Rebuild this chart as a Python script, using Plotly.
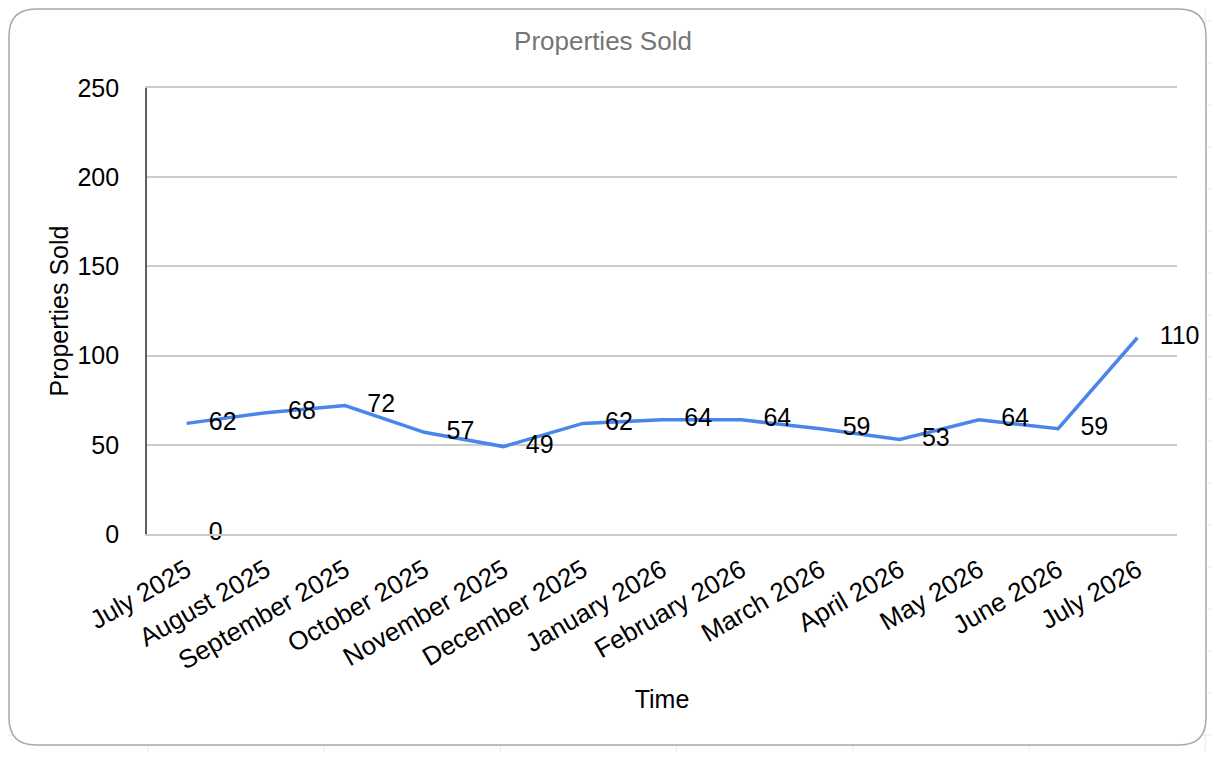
import plotly.graph_objects as go

# data
months = ["July 2025", "August 2025", "September 2025", "October 2025",
          "November 2025", "December 2025", "January 2026", "February 2026",
          "March 2026", "April 2026", "May 2026", "June 2026", "July 2026"]
sold = [62, 68, 72, 57, 49, 62, 64, 64, 59, 53, 64, 59, 110]

# stray "0" label shown under the first month
extra_month = ["July 2025"]
extra_value = [0]

# the page body adds an 8px margin, so everything is laid out 8px up/left
OFF = 8
W, H = 1204, 744
L, R, T, B = 147 - OFF, 1177 - OFF, 88 - OFF, 534 - OFF   # plot area


def px(x):
    return (x - L) / (R - L)


def py(y):
    return (B - y) / (B - T)


font = "Liberation Sans, Arial, sans-serif"

line = go.Scatter(
    x=months,
    y=sold,
    mode="lines+markers+text",
    line=dict(color="#4a85ec", width=3.5),
    marker=dict(size=34, color="rgba(0,0,0,0)"),
    text=[str(v) for v in sold],
    textposition="middle right",
    textfont=dict(family=font, size=25, color="#000000"),
    cliponaxis=False,
    hoverinfo="x+y",
    showlegend=False,
)

zero_lbl = go.Scatter(
    x=extra_month,
    y=extra_value,
    mode="markers+text",
    marker=dict(size=34, color="rgba(0,0,0,0)"),
    text=[str(v) for v in extra_value],
    textposition="middle right",
    textfont=dict(family=font, size=25, color="#000000"),
    cliponaxis=False,
    hoverinfo="skip",
    showlegend=False,
)

shapes = []
# faint spreadsheet cells behind the chart
for k in range(19):
    yy = 21 - OFF + 42 * k
    shapes.append(dict(type="line", xref="paper", yref="paper", layer="below",
                       x0=px(0), x1=px(W), y0=py(yy), y1=py(yy),
                       line=dict(color="#ebebeb", width=1)))
for k in range(7):
    xx = 148 - OFF + 176.2 * k
    shapes.append(dict(type="line", xref="paper", yref="paper", layer="below",
                       x0=px(xx), x1=px(xx), y0=py(0), y1=py(H),
                       line=dict(color="#ebebeb", width=1)))

# rounded chart frame
x0, x1, y0, y1, r = 1, 1206 - OFF, 1, 745 - OFF, 27
path = (f"M {px(x0 + r)} {py(y0)} L {px(x1 - r)} {py(y0)} "
        f"Q {px(x1)} {py(y0)} {px(x1)} {py(y0 + r)} "
        f"L {px(x1)} {py(y1 - r)} "
        f"Q {px(x1)} {py(y1)} {px(x1 - r)} {py(y1)} "
        f"L {px(x0 + r)} {py(y1)} "
        f"Q {px(x0)} {py(y1)} {px(x0)} {py(y1 - r)} "
        f"L {px(x0)} {py(y0 + r)} "
        f"Q {px(x0)} {py(y0)} {px(x0 + r)} {py(y0)} Z")
shapes.append(dict(type="path", xref="paper", yref="paper", layer="below",
                   path=path, fillcolor="white",
                   line=dict(color="#a8a8a8", width=1.5)))

fig = go.Figure(data=[line, zero_lbl])

fig.update_layout(
    width=W, height=H,
    margin=dict(l=L, r=W - R, t=T, b=H - B, autoexpand=False),
    paper_bgcolor="white",
    plot_bgcolor="rgba(0,0,0,0)",
    font=dict(family=font, size=25, color="#000000"),
    title=dict(text="Properties Sold", x=(603 - OFF) / W, xref="container",
               y=1 - (41 - OFF) / H, yref="container",
               xanchor="center", yanchor="middle",
               font=dict(family=font, size=26, color="#757575")),
    shapes=shapes,
    showlegend=False,
)

fig.update_xaxes(
    type="category",
    categoryorder="array", categoryarray=months,
    range=[-0.5, len(months) - 0.5],
    showgrid=False, zeroline=False,
    showline=True, mirror=True, linecolor="#cccccc", linewidth=1.5,
    ticks="outside", ticklen=9, tickcolor="rgba(0,0,0,0)",
    tickangle=-30,
    tickfont=dict(family=font, size=26, color="#000000"),
    title=dict(text="Time", standoff=16,
               font=dict(family=font, size=25, color="#000000")),
)

fig.update_yaxes(
    range=[0, 250], dtick=50,
    showgrid=True, gridcolor="#cccccc", gridwidth=1.5,
    zeroline=False,
    showline=True, linecolor="#5f5f5f", linewidth=1.8,
    ticks="outside", ticklen=21, tickcolor="rgba(0,0,0,0)",
    tickfont=dict(family=font, size=25, color="#000000"),
    title=dict(text="Properties Sold", standoff=2,
               font=dict(family=font, size=25, color="#000000")),
)

fig.write_html("out.html")
